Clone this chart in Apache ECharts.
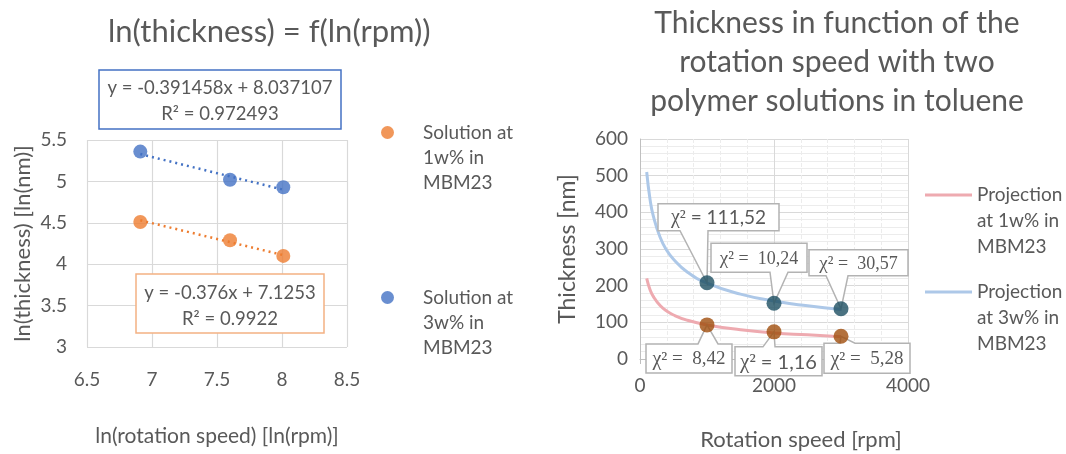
<!DOCTYPE html>
<html>
<head>
<meta charset="utf-8">
<script src="https://cdn.jsdelivr.net/npm/echarts@6/dist/echarts.min.js"></script>
<style>html,body{margin:0;padding:0;background:#fff}#c{width:1066px;height:454px}</style>
</head>
<body>
<div id="c"></div>
<script>
// ---------- Left chart data ----------
const lnRpm = [6.91, 7.60, 8.01];
const lnThick1w = [4.51, 4.29, 4.10];
const lnThick3w = [5.36, 5.02, 4.93];
const trend1w = [[6.91, 4.53], [8.01, 4.11]];
const trend3w = [[6.91, 5.33], [8.01, 4.90]];
const eq1w = ['y = -0.376x + 7.1253', 'R² = 0.9922'];
const eq3w = ['y = -0.391458x + 8.037107', 'R² = 0.972493'];
const leftXTicks = [6.5, 7, 7.5, 8, 8.5];
const leftYTicks = [3, 3.5, 4, 4.5, 5, 5.5];

// ---------- Right chart data ----------
const rpm = [1000, 2000, 3000];
const thick1w = [93, 74, 62];
const thick3w = [208, 152, 137];
const chi1w = ['8,42', '1,16', '5,28'];
const chi3w = ['111,52', '10,24', '30,57'];
const rpmCurve = [100, 150, 200, 300, 400, 500, 700, 1000, 1500, 2000, 2500, 3000];
const proj1w = [220, 189, 170, 146, 131, 120, 106, 93, 80, 71, 66, 61];
const proj3w = [510, 435, 389, 332, 296, 272, 238, 207, 177, 158, 145, 135];

const names = {
  s1: 'Solution at\n1w% in\nMBM23',
  s3: 'Solution at\n3w% in\nMBM23',
  p1: 'Projection\nat 1w% in\nMBM23',
  p3: 'Projection\nat 3w% in\nMBM23'
};

// callout layout (box offset relative to the point, size, wedge base)
const callout3w = [
  {dx: -49, dy: -79, w: 121, h: 27, wl: 22, wr: 50, font: 'sans', size: 19},
  {dx: -63, dy: -60, w: 96, h: 29, wl: 59, wr: 77, font: 'serif', size: 18},
  {dx: -32, dy: -59, w: 99, h: 26, wl: 17, wr: 39, font: 'serif', size: 18}
];
const callout1w = [
  {dx: -61, dy: 19, w: 86, h: 29, wl: 52, wr: 72, font: 'serif', size: 19},
  {dx: -39, dy: 15, w: 87, h: 29, wl: 28, wr: 40, font: 'sans', size: 20},
  {dx: -17, dy: 7, w: 86, h: 30, wl: 16, wr: 31, font: 'serif', size: 19}
];

const GRAY = '#595959';
const FONT = 'Lato';

function calloutRenderer(labels, layout) {
  return function (params, api) {
    const i = params.dataIndex;
    const p = api.coord([api.value(0), api.value(1)]);
    const L = layout[i];
    const bx = p[0] + L.dx, by = p[1] + L.dy;
    let pts;
    if (L.dy < 0) {
      const yb = by + L.h;
      pts = [[bx, by], [bx + L.w, by], [bx + L.w, yb], [bx + L.wr, yb], [p[0], p[1]], [bx + L.wl, yb], [bx, yb]];
    } else {
      pts = [[bx, by], [bx + L.wl, by], [p[0], p[1]], [bx + L.wr, by], [bx + L.w, by], [bx + L.w, by + L.h], [bx, by + L.h]];
    }
    const numFamily = L.font === 'serif' ? 'Liberation Serif' : FONT;
    return {
      type: 'group',
      children: [
        {type: 'polygon', shape: {points: pts}, style: {fill: '#fff', stroke: '#b3b3b3', lineWidth: 1.5}},
        {
          type: 'text', x: bx + L.w / 2, y: by + L.h / 2 + 1,
          style: {
            text: '{c|χ²}{n| = ' + (L.font === 'serif' ? ' ' : '') + labels[i] + '}',
            align: 'center', verticalAlign: 'middle',
            rich: {
              c: {fontFamily: 'Liberation Serif', fontSize: L.size + 1, fill: GRAY},
              n: {fontFamily: numFamily, fontSize: L.size, fill: GRAY}
            }
          }
        }
      ]
    };
  };
}

const chart = echarts.init(document.getElementById('c'));
const axisLabelStyle = {color: GRAY, fontSize: 19, fontFamily: FONT};
const nameStyle = {color: GRAY, fontSize: 21, fontFamily: FONT};
const legendFmt = (name) => '\n\n' + name;

chart.setOption({
  animation: false,
  textStyle: {fontFamily: FONT, color: GRAY},
  title: [
    {text: 'ln(thickness) = f(ln(rpm))', left: 103, top: 11,
     textStyle: {fontSize: 31, fontWeight: 'normal', color: GRAY, fontFamily: FONT}},
    {text: 'Thickness in function of the\nrotation speed with two\npolymer solutions in toluene', left: 832, top: -1,
     textAlign: 'center',
     textStyle: {fontSize: 30, fontWeight: 'normal', color: GRAY, fontFamily: FONT, lineHeight: 39}}
  ],
  grid: [
    {left: 87, top: 140, width: 260, height: 207},
    {left: 640, top: 139, width: 268, height: 220}
  ],
  legend: [
    {data: [names.s1], left: 381, top: 70, padding: 0, icon: 'circle', itemWidth: 13, itemHeight: 13, formatter: legendFmt,
     textStyle: {color: GRAY, fontSize: 19, lineHeight: 25, padding: [0, 0, 0, 24]}},
    {data: [names.s3], left: 381, top: 235, padding: 0, icon: 'circle', itemWidth: 13, itemHeight: 13, formatter: legendFmt,
     textStyle: {color: GRAY, fontSize: 19, lineHeight: 25, padding: [0, 0, 0, 24]}},
    {data: [names.p1], left: 925, top: 130, padding: 0, icon: 'rect', itemWidth: 47, itemHeight: 3, formatter: legendFmt,
     textStyle: {color: GRAY, fontSize: 19, lineHeight: 26}},
    {data: [names.p3], left: 925, top: 227, padding: 0, icon: 'rect', itemWidth: 47, itemHeight: 3, formatter: legendFmt,
     textStyle: {color: GRAY, fontSize: 19, lineHeight: 26}}
  ],
  xAxis: [
    {gridIndex: 0, type: 'value', min: leftXTicks[0], max: leftXTicks[leftXTicks.length - 1], interval: 0.5,
     axisLine: {show: false}, axisTick: {show: false},
     splitLine: {show: true, lineStyle: {color: '#d9d9d9', width: 1.2}},
     axisLabel: Object.assign({margin: 23}, axisLabelStyle),
     name: 'ln(rotation speed) [ln(rpm)]', nameLocation: 'middle', nameGap: 79, nameTextStyle: nameStyle},
    {gridIndex: 1, type: 'value', min: 0, max: 4000, interval: 2000,
     axisLine: {show: true, lineStyle: {color: '#bfbfbf'}},
     axisTick: {show: true, length: 5, lineStyle: {color: '#bfbfbf'}},
     minorTick: {show: false, splitNumber: 5},
     splitLine: {show: true, lineStyle: {color: '#d9d9d9'}},
     minorSplitLine: {show: true, lineStyle: {color: '#ececec', type: 'dashed'}},
     axisLabel: Object.assign({margin: 17, formatter: (v) => String(v)}, axisLabelStyle),
     name: 'Rotation speed [rpm]', nameLocation: 'middle', nameGap: 70,
     nameTextStyle: Object.assign({}, nameStyle, {fontSize: 22, padding: [0, 0, 0, 54]})}
  ],
  yAxis: [
    {gridIndex: 0, type: 'value', min: leftYTicks[0], max: leftYTicks[leftYTicks.length - 1], interval: 0.5,
     axisLine: {show: false}, axisTick: {show: false},
     splitLine: {show: true, lineStyle: {color: '#d9d9d9', width: 1.2}},
     axisLabel: Object.assign({margin: 20}, axisLabelStyle),
     name: 'ln(thickness) [ln(nm)]', nameLocation: 'middle', nameGap: 53,
     nameTextStyle: Object.assign({}, nameStyle, {fontSize: 22})},
    {gridIndex: 1, type: 'value', min: 0, max: 600, interval: 100,
     axisLine: {show: true, lineStyle: {color: '#bfbfbf'}},
     axisTick: {show: false},
     minorTick: {show: false, splitNumber: 5},
     splitLine: {show: true, lineStyle: {color: '#d9d9d9'}},
     minorSplitLine: {show: true, lineStyle: {color: '#ececec'}},
     axisLabel: Object.assign({margin: 12}, axisLabelStyle),
     name: 'Thickness [nm]', nameLocation: 'middle', nameGap: 61,
     nameTextStyle: Object.assign({}, nameStyle, {fontSize: 23})}
  ],
  graphic: [
    {type: 'rect', shape: {x: 99, y: 70, width: 242, height: 59}, style: {fill: '#fff', stroke: '#4472c4', lineWidth: 1.5}, z: 10},
    {type: 'text', x: 220, y: 101, z: 11,
     style: {text: eq3w.join('\n'), fontFamily: FONT, fontSize: 18.5, lineHeight: 26, fill: GRAY, align: 'center', verticalAlign: 'middle'}},
    {type: 'rect', shape: {x: 136, y: 274, width: 188, height: 59}, style: {fill: '#fff', stroke: '#f4b183', lineWidth: 1.5}, z: 10},
    {type: 'text', x: 230, y: 306, z: 11,
     style: {text: eq1w.join('\n'), fontFamily: FONT, fontSize: 18.5, lineHeight: 26, fill: GRAY, align: 'center', verticalAlign: 'middle'}}
  ],
  series: [
    {type: 'line', xAxisIndex: 0, yAxisIndex: 0, data: trend3w, symbol: 'none', silent: true,
     lineStyle: {color: '#4472c4', width: 2.5, type: [2, 4]}, z: 2},
    {type: 'line', xAxisIndex: 0, yAxisIndex: 0, data: trend1w, symbol: 'none', silent: true,
     lineStyle: {color: '#ed7d31', width: 2.5, type: [2, 4]}, z: 2},
    {name: names.s1, type: 'scatter', xAxisIndex: 0, yAxisIndex: 0,
     data: lnRpm.map((x, i) => [x, lnThick1w[i]]), symbolSize: 14, itemStyle: {color: '#ed7d31'}, z: 3},
    {name: names.s3, type: 'scatter', xAxisIndex: 0, yAxisIndex: 0,
     data: lnRpm.map((x, i) => [x, lnThick3w[i]]), symbolSize: 14, itemStyle: {color: '#4472c4'}, z: 3},

    {name: names.p1, type: 'line', xAxisIndex: 1, yAxisIndex: 1, smooth: true, symbol: 'none',
     data: rpmCurve.map((x, i) => [x, proj1w[i]]), lineStyle: {color: '#eeaab0', width: 3}, itemStyle: {color: '#eeaab0'}, z: 2},
    {name: names.p3, type: 'line', xAxisIndex: 1, yAxisIndex: 1, smooth: true, symbol: 'none',
     data: rpmCurve.map((x, i) => [x, proj3w[i]]), lineStyle: {color: '#adc8e8', width: 3}, itemStyle: {color: '#adc8e8'}, z: 2},
    {type: 'custom', xAxisIndex: 1, yAxisIndex: 1, clip: false, silent: true, z: 3,
     data: rpm.map((x, i) => [x, thick3w[i]]), renderItem: calloutRenderer(chi3w, callout3w)},
    {type: 'custom', xAxisIndex: 1, yAxisIndex: 1, clip: false, silent: true, z: 3,
     data: rpm.map((x, i) => [x, thick1w[i]]), renderItem: calloutRenderer(chi1w, callout1w)},
    {type: 'scatter', xAxisIndex: 1, yAxisIndex: 1, data: rpm.map((x, i) => [x, thick3w[i]]),
     symbolSize: 15, itemStyle: {color: '#1d4f61'}, z: 4},
    {type: 'scatter', xAxisIndex: 1, yAxisIndex: 1, data: rpm.map((x, i) => [x, thick1w[i]]),
     symbolSize: 15, itemStyle: {color: '#a04e0c'}, z: 4}
  ]
});
</script>
</body>
</html>
